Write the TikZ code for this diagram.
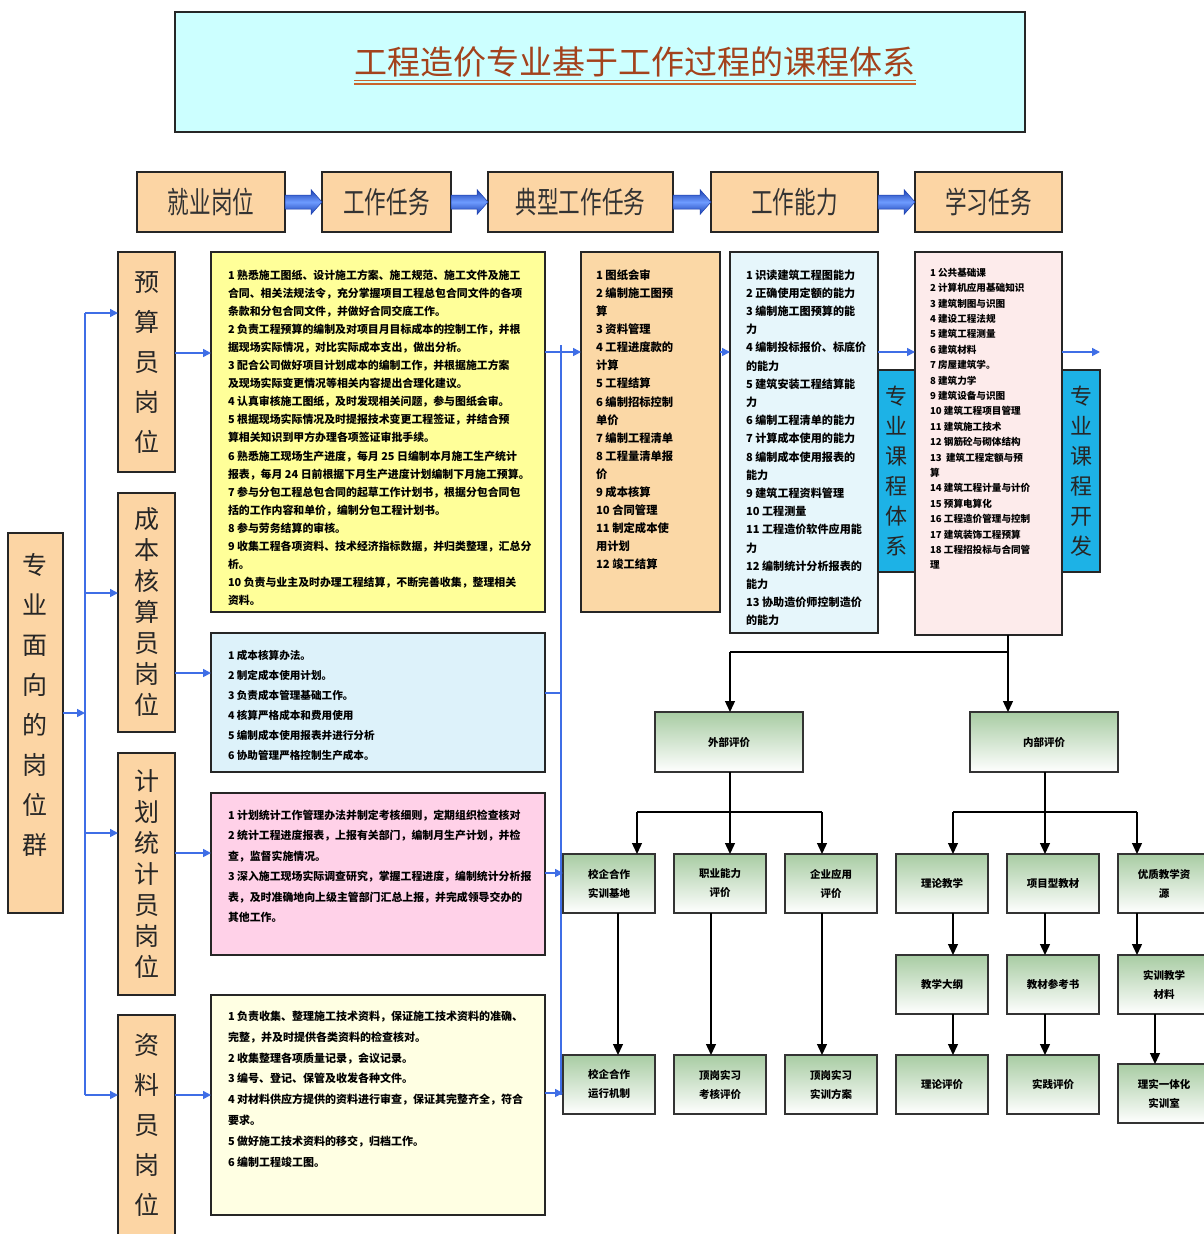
\documentclass[tikz,border=0pt]{standalone}
\usepackage{fontspec}
\setmainfont{Noto Sans CJK SC}
\newfontfamily\cjkn[FakeStretch=0.72]{Noto Sans CJK SC}
\usetikzlibrary{arrows.meta,calc}
\definecolor{titlefill}{HTML}{CCFFFF}
\definecolor{titlecol}{HTML}{A3421C}
\definecolor{ulcol}{HTML}{C8642C}
\definecolor{headfill}{HTML}{FCD5A4}
\definecolor{yel}{HTML}{FFFF99}
\definecolor{lbl}{HTML}{DDF2FA}
\definecolor{pnk}{HTML}{FFD1E8}
\definecolor{crm}{HTML}{FFFFE3}
\definecolor{org}{HTML}{FBD8A6}
\definecolor{lbb}{HTML}{E6F6FB}
\definecolor{cyn}{HTML}{1DB2E6}
\definecolor{pkk}{HTML}{FDEBEB}
\definecolor{arrblue}{HTML}{3F6EE6}
\definecolor{arrdark}{HTML}{1A3FB0}
\definecolor{arrlight}{HTML}{6E9BFF}
\definecolor{gtop}{HTML}{A8CCA3}
\newcommand\blockarrow[2]{%
  \path[top color=arrdark, bottom color=arrdark, middle color=arrlight, draw=arrdark, line width=0.5pt]
    ($(#1.east)+(0,-7)$) -- ($(#2.west)+(-11,-7)$) -- ($(#2.west)+(-11,-12.5)$) -- (#2.west)
    -- ($(#2.west)+(-11,12.5)$) -- ($(#2.west)+(-11,7)$) -- ($(#1.east)+(0,7)$) -- cycle;}
\begin{document}
\begin{tikzpicture}[x=1pt,y=-1pt,
  bx/.style={draw=black!85, line width=1.3pt, anchor=north west, inner sep=0, outer sep=0},
  hbx/.style={bx, fill=headfill, minimum height=60pt, text=black!80, font=\cjkn\fontsize{30}{30}\selectfont},
  gbx/.style={bx, draw=black!80, line width=1.2pt, top color=gtop, bottom color=white, minimum width=92pt, minimum height=59pt, align=center, font=\bfseries\fontsize{10.5}{19}\selectfont},
  txt/.style={anchor=north west, align=left, inner sep=0, outer sep=0},
  vtxt/.style={align=center, inner sep=0, text=black!85},
  barr/.style={draw=arrblue, line width=1.6pt, -{Triangle[length=8pt,width=8pt]}},
  bln/.style={draw=arrblue, line width=1.6pt},
  karr/.style={draw=black, line width=1.3pt, -{Triangle[length=11pt,width=10pt]}},
  kln/.style={draw=black, line width=1.3pt}
]
\useasboundingbox (0,0) rectangle (1204,1234);
\fill[white] (0,0) rectangle (1204,1234);

% title
\node[bx, fill=titlefill, minimum width=850pt, minimum height=120pt, line width=1.8pt] (tb) at (175,12) {};
\node[font=\fontsize{33}{33}\selectfont, text=titlecol, inner sep=0] (title) at (635,62) {工程造价专业基于工作过程的课程体系};
\draw[ulcol, line width=1.2pt] ([yshift=-3pt]title.south west) -- ([yshift=-3pt]title.south east);
\draw[ulcol, line width=1.2pt] ([yshift=-6.5pt]title.south west) -- ([yshift=-6.5pt]title.south east);

% header row
\node[hbx, minimum width=148pt] (h1) at (137,172) {就业岗位};
\node[hbx, minimum width=129pt] (h2) at (322,172) {工作任务};
\node[hbx, minimum width=185pt] (h3) at (488,172) {典型工作任务};
\node[hbx, minimum width=167pt] (h4) at (711,172) {工作能力};
\node[hbx, minimum width=147pt] (h5) at (915,172) {学习任务};
\blockarrow{h1}{h2}
\blockarrow{h2}{h3}
\blockarrow{h3}{h4}
\blockarrow{h4}{h5}

% left group box
\node[bx, fill=headfill, minimum width=55pt, minimum height=380pt] (grp) at (8,533) {};
\node[vtxt, font=\fontsize{25}{40}\selectfont] (grpt) at (35.5,705) {专\\业\\面\\向\\的\\岗\\位\\群};

% position boxes
\node[bx, fill=headfill, minimum width=57pt, minimum height=220pt] (p1) at (118,252) {};
\node[bx, fill=headfill, minimum width=57pt, minimum height=239pt] (p2) at (118,493) {};
\node[bx, fill=headfill, minimum width=57pt, minimum height=242pt] (p3) at (118,753) {};
\node[bx, fill=headfill, minimum width=57pt, minimum height=235pt] (p4) at (118,1015) {};
\node[vtxt, font=\fontsize{25}{40}\selectfont] (p1t) at (146.5,363) {预\\算\\员\\岗\\位};
\node[vtxt, font=\fontsize{25}{31}\selectfont] (p2t) at (146.5,612) {成\\本\\核\\算\\员\\岗\\位};
\node[vtxt, font=\fontsize{25}{31}\selectfont] (p3t) at (146.5,874) {计\\划\\统\\计\\员\\岗\\位};
\node[vtxt, font=\fontsize{25}{40}\selectfont] (p4t) at (146.5,1125) {资\\料\\员\\岗\\位};

% blue connectors on the left
\coordinate (v1) at (85,313);
\coordinate (v2) at (85,593);
\coordinate (v3) at (85,833);
\coordinate (v4) at (85,1095);
\coordinate (vm) at (85,713);
\draw[bln] (v1) -- (v4);
\draw[barr] (vm -| grp.east) -- (vm);
\draw[barr] (v1) -- (v1 -| p1.west);
\draw[barr] (v2) -- (v2 -| p2.west);
\draw[barr] (v3) -- (v3 -| p3.west);
\draw[barr] (v4) -- (v4 -| p4.west);

% content boxes
\node[bx, fill=yel, minimum width=334pt, minimum height=360pt] (yb) at (211,252) {};
\node[bx, fill=lbl, minimum width=334pt, minimum height=139pt] (bb) at (211,633) {};
\node[bx, fill=pnk, minimum width=334pt, minimum height=162pt] (kb) at (211,793) {};
\node[bx, fill=crm, minimum width=334pt, minimum height=220pt] (cb) at (211,995) {};

\coordinate (r1) at (0,353);
\coordinate (r2) at (0,673);
\coordinate (r3) at (0,853);
\coordinate (r4) at (0,1095);
\draw[barr] (r1 -| p1.east) -- (r1 -| yb.west);
\draw[barr] (r2 -| p2.east) -- (r2 -| bb.west);
\draw[barr] (r3 -| p3.east) -- (r3 -| kb.west);
\draw[barr] (r4 -| p4.east) -- (r4 -| cb.west);

\node[txt, font=\bfseries\fontsize{10.9}{18.1}\selectfont] (ybt) at (228,269.5) {1 熟悉施工图纸、设计施工方案、施工规范、施工文件及施工\\合同、相关法规法令，充分掌握项目工程总包合同文件的各项\\条款和分包合同文件，并做好合同交底工作。\\2 负责工程预算的编制及对项目月目标成本的控制工作，并根\\据现场实际情况，对比实际成本支出，做出分析。\\3 配合公司做好项目计划成本的编制工作，并根据施工方案\\及现场实际变更情况等相关内容提出合理化建议。\\4 认真审核施工图纸，及时发现相关问题，参与图纸会审。\\5 根据现场实际情况及时提报技术变更工程签证，并结合预\\算相关知识到甲方办理各项签证审批手续。\\6 熟悉施工现场生产进度，每月 25 日编制本月施工生产统计\\报表，每月 24 日前根据下月生产进度计划编制下月施工预算。\\7 参与分包工程总包合同的起草工作计划书，根据分包合同包\\括的工作内容和单价，编制分包工程计划书。\\8 参与劳务结算的审核。\\9 收集工程各项资料、技术经济指标数据，并归类整理，汇总分\\析。\\10 负责与业主及时办理工程结算，不断完善收集，整理相关\\资料。};

\node[txt, font=\bfseries\fontsize{10.6}{20}\selectfont] (bbt) at (228,650) {1 成本核算办法。\\2 制定成本使用计划。\\3 负责成本管理基础工作。\\4 核算严格成本和费用使用\\5 编制成本使用报表并进行分析\\6 协助管理严格控制生产成本。};

\node[txt, font=\bfseries\fontsize{10.9}{20.5}\selectfont] (kbt) at (228,810) {1 计划统计工作管理办法并制定考核细则，定期组织检查核对\\2 统计工程进度报表，上报有关部门，编制月生产计划，并检\\查，监督实施情况。\\3 深入施工现场实际调查研究，掌握工程进度，编制统计分析报\\表，及时准确地向上级主管部门汇总上报，并完成领导交办的\\其他工作。};

\node[txt, font=\bfseries\fontsize{11}{20.8}\selectfont] (cbt) at (228,1011) {1 负责收集、整理施工技术资料，保证施工技术资料的准确、\\完整，并及时提供各类资料的检查核对。\\2 收集整理各项质量记录，会议记录。\\3 编号、登记、保管及收发各种文件。\\4 对材料供应方提供的资料进行审查，保证其完整齐全，符合\\要求。\\5 做好施工技术资料的移交，归档工作。\\6 编制工程竣工图。};

% typical tasks / abilities / learning
\node[bx, fill=org, minimum width=139pt, minimum height=360pt] (ob) at (581,252) {};
\node[bx, fill=lbb, minimum width=148pt, minimum height=381pt] (ab) at (730,252) {};
\node[bx, fill=cyn, minimum width=37pt, minimum height=202pt] (cy1) at (878,370) {};
\node[bx, fill=pkk, minimum width=147pt, minimum height=383pt] (lb) at (915,252) {};
\node[bx, fill=cyn, minimum width=38pt, minimum height=202pt] (cy2) at (1062,370) {};
\node[vtxt, font=\fontsize{22}{30}\selectfont] (cy1t) at (896.5,471) {专\\业\\课\\程\\体\\系};
\node[vtxt, font=\fontsize{22}{30}\selectfont] (cy2t) at (1081,471) {专\\业\\课\\程\\开\\发};

\node[txt, font=\bfseries\fontsize{11.3}{18.1}\selectfont] (obt) at (596,269.5) {1 图纸会审\\2 编制施工图预\\算\\3 资料管理\\4 工程进度款的\\计算\\5 工程结算\\6 编制招标控制\\单价\\7 编制工程清单\\8 工程量清单报\\价\\9 成本核算\\10 合同管理\\11 制定成本使\\用计划\\12 竣工结算};

\node[txt, font=\bfseries\fontsize{11.1}{18.2}\selectfont] (abt) at (746,269.5) {1 识读建筑工程图能力\\2 正确使用定额的能力\\3 编制施工图预算的能\\力\\4 编制投标报价、标底价\\的能力\\5 建筑安装工程结算能\\力\\6 编制工程清单的能力\\7 计算成本使用的能力\\8 编制成本使用报表的\\能力\\9 建筑工程资料管理\\10 工程测量\\11 工程造价软件应用能\\力\\12 编制统计分析报表的\\能力\\13 协助造价师控制造价\\的能力};

\node[txt, font=\bfseries\fontsize{9.6}{15.4}\selectfont] (lbt) at (930,268) {1 公共基础课\\2 计算机应用基础知识\\3 建筑制图与识图\\4 建设工程法规\\5 建筑工程测量\\6 建筑材料\\7 房屋建筑学。\\8 建筑力学\\9 建筑设备与识图\\10 建筑工程项目管理\\11 建筑施工技术\\12 钢筋砼与砌体结构\\13 \ 建筑工程定额与预\\算\\14 建筑工程计量与计价\\15 预算电算化\\16 工程造价管理与控制\\17 建筑装饰工程预算\\18 工程招投标与合同管\\理};

% blue connectors in the middle
\coordinate (m1) at (561,352);
\coordinate (m2) at (561,693);
\coordinate (m3) at (561,873);
\coordinate (m4) at (561,1095);
\draw[bln] (561,345) -- (m4);
\draw[barr] (m1 -| yb.east) -- (m1 -| ob.west);
\draw[bln] (m2 -| bb.east) -- (m2);
\coordinate (q1) at (0,352);
\draw[barr] (q1 -| ob.east) -- (q1 -| ab.west);
\draw[barr] (q1 -| ab.east) -- (q1 -| lb.west);
\coordinate (q2) at (1100,352);
\draw[barr] (q2 -| lb.east) -- (q2);

% evaluation tree
\node[gbx, minimum width=148pt, minimum height=60pt] (ext) at (655,712) {外部评价};
\node[gbx, minimum width=148pt, minimum height=60pt] (int) at (970,712) {内部评价};
\coordinate (e0) at (1008,652);
\coordinate (e1) at (730,652);
\draw[kln] (e0 |- lb.south) -- (e0);
\draw[karr] (e0) -- (e0 |- int.north);
\draw[kln] (e0) -- (e1);
\draw[karr] (e1) -- (e1 |- ext.north);

\node[gbx] (g11) at (563,854) {校企合作\\实训基地};
\node[gbx] (g12) at (674,854) {职业能力\\评价};
\node[gbx] (g13) at (785,854) {企业应用\\评价};
\node[gbx] (g31) at (563,1055) {校企合作\\运行机制};
\node[gbx] (g32) at (674,1055) {顶岗实习\\考核评价};
\node[gbx] (g33) at (785,1055) {顶岗实习\\实训方案};

\draw[barr] (m3 -| kb.east) -- (m3 -| g11.west);
\coordinate (m5) at (0,1093);
\draw[barr] (m5 -| cb.east) -- (m5 -| g31.west);

\coordinate (x0) at (730,812);
\coordinate (x1) at (637,812);
\coordinate (x2) at (730,812);
\coordinate (x3) at (822,812);
\draw[kln] (ext.south -| x0) -- (x0);
\draw[kln] (x1) -- (x3);
\draw[karr] (x1) -- (x1 |- g11.north);
\draw[karr] (x2) -- (x2 |- g12.north);
\draw[karr] (x3) -- (x3 |- g13.north);
\coordinate (y1) at (618,0);
\coordinate (y2) at (711,0);
\coordinate (y3) at (822,0);
\draw[karr] (y1 |- g11.south) -- (y1 |- g31.north);
\draw[karr] (y2 |- g12.south) -- (y2 |- g32.north);
\draw[karr] (y3 |- g13.south) -- (y3 |- g33.north);

\node[gbx] (h11) at (896,854) {理论教学};
\node[gbx] (h12) at (1007,854) {项目型教材};
\node[gbx] (h13) at (1118,854) {优质教学资\\源};
\node[gbx] (h21) at (896,955) {教学大纲};
\node[gbx] (h22) at (1007,955) {教材参考书};
\node[gbx] (h23) at (1118,955) {实训教学\\材料};
\node[gbx] (h31) at (896,1055) {理论评价};
\node[gbx] (h32) at (1007,1055) {实践评价};
\node[gbx] (h33) at (1118,1064) {理实一体化\\实训室};

\coordinate (z0) at (1045,812);
\coordinate (z1) at (953,812);
\coordinate (z3) at (1137,812);
\draw[kln] (int.south -| z0) -- (z0);
\draw[kln] (z1) -- (z3);
\draw[karr] (z1) -- (z1 |- h11.north);
\draw[karr] (z0) -- (z0 |- h12.north);
\draw[karr] (z3) -- (z3 |- h13.north);
\coordinate (w1) at (953,0);
\coordinate (w2) at (1045,0);
\coordinate (w3) at (1137,0);
\coordinate (w4) at (1155,0);
\draw[karr] (w1 |- h11.south) -- (w1 |- h21.north);
\draw[karr] (w2 |- h12.south) -- (w2 |- h22.north);
\draw[karr] (w3 |- h13.south) -- (w3 |- h23.north);
\draw[karr] (w1 |- h21.south) -- (w1 |- h31.north);
\draw[karr] (w2 |- h22.south) -- (w2 |- h32.north);
\draw[karr] (w4 |- h23.south) -- (w4 |- h33.north);
\end{tikzpicture}
\end{document}
